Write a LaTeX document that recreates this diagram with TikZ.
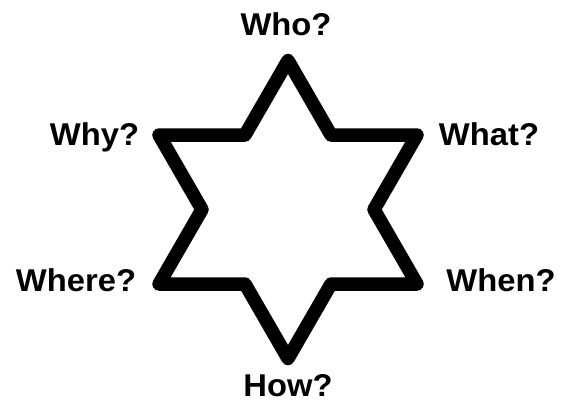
\documentclass[tikz,border=0pt]{standalone}
\usepackage{fontspec}
\setmainfont{Liberation Sans}
\begin{document}
\begin{tikzpicture}[x=1pt,y=-1pt,
  lbl/.style={font=\fontsize{31.5}{31.5}\selectfont\bfseries, inner sep=0pt, anchor=base, xscale=1.04},
  starline/.style={draw=black, line width=13.5pt, line join=round, line cap=round}]
\useasboundingbox (0,0) rectangle (566,402);
% hexagram vertices (centre 288,209.5; R=149, r=86)
\coordinate (T)  at (288,60.5);
\coordinate (UR) at (417,135);
\coordinate (LR) at (417,284);
\coordinate (B)  at (288,358.5);
\coordinate (LL) at (159,284);
\coordinate (UL) at (159,135);
\coordinate (iUR) at (331,135);
\coordinate (iR)  at (374,209.5);
\coordinate (iLR) at (331,284);
\coordinate (iLL) at (245,284);
\coordinate (iL)  at (202,209.5);
\coordinate (iUL) at (245,135);
\draw[starline] (T) -- (iUR) -- (UR) -- (iR) -- (LR) -- (iLR) -- (B) -- (iLL) -- (LL) -- (iL) -- (UL) -- (iUL) -- cycle;
\node[lbl] (who)   at (286,35)    {Who?};
\node[lbl] (why)   at (94.5,145)  {Why?};
\node[lbl] (what)  at (489,145)   {What?};
\node[lbl] (where) at (76,291.5)  {Where?};
\node[lbl] (when)  at (501,291.5) {When?};
\node[lbl] (how)   at (288,396.5) {How?};
\end{tikzpicture}
\end{document}
